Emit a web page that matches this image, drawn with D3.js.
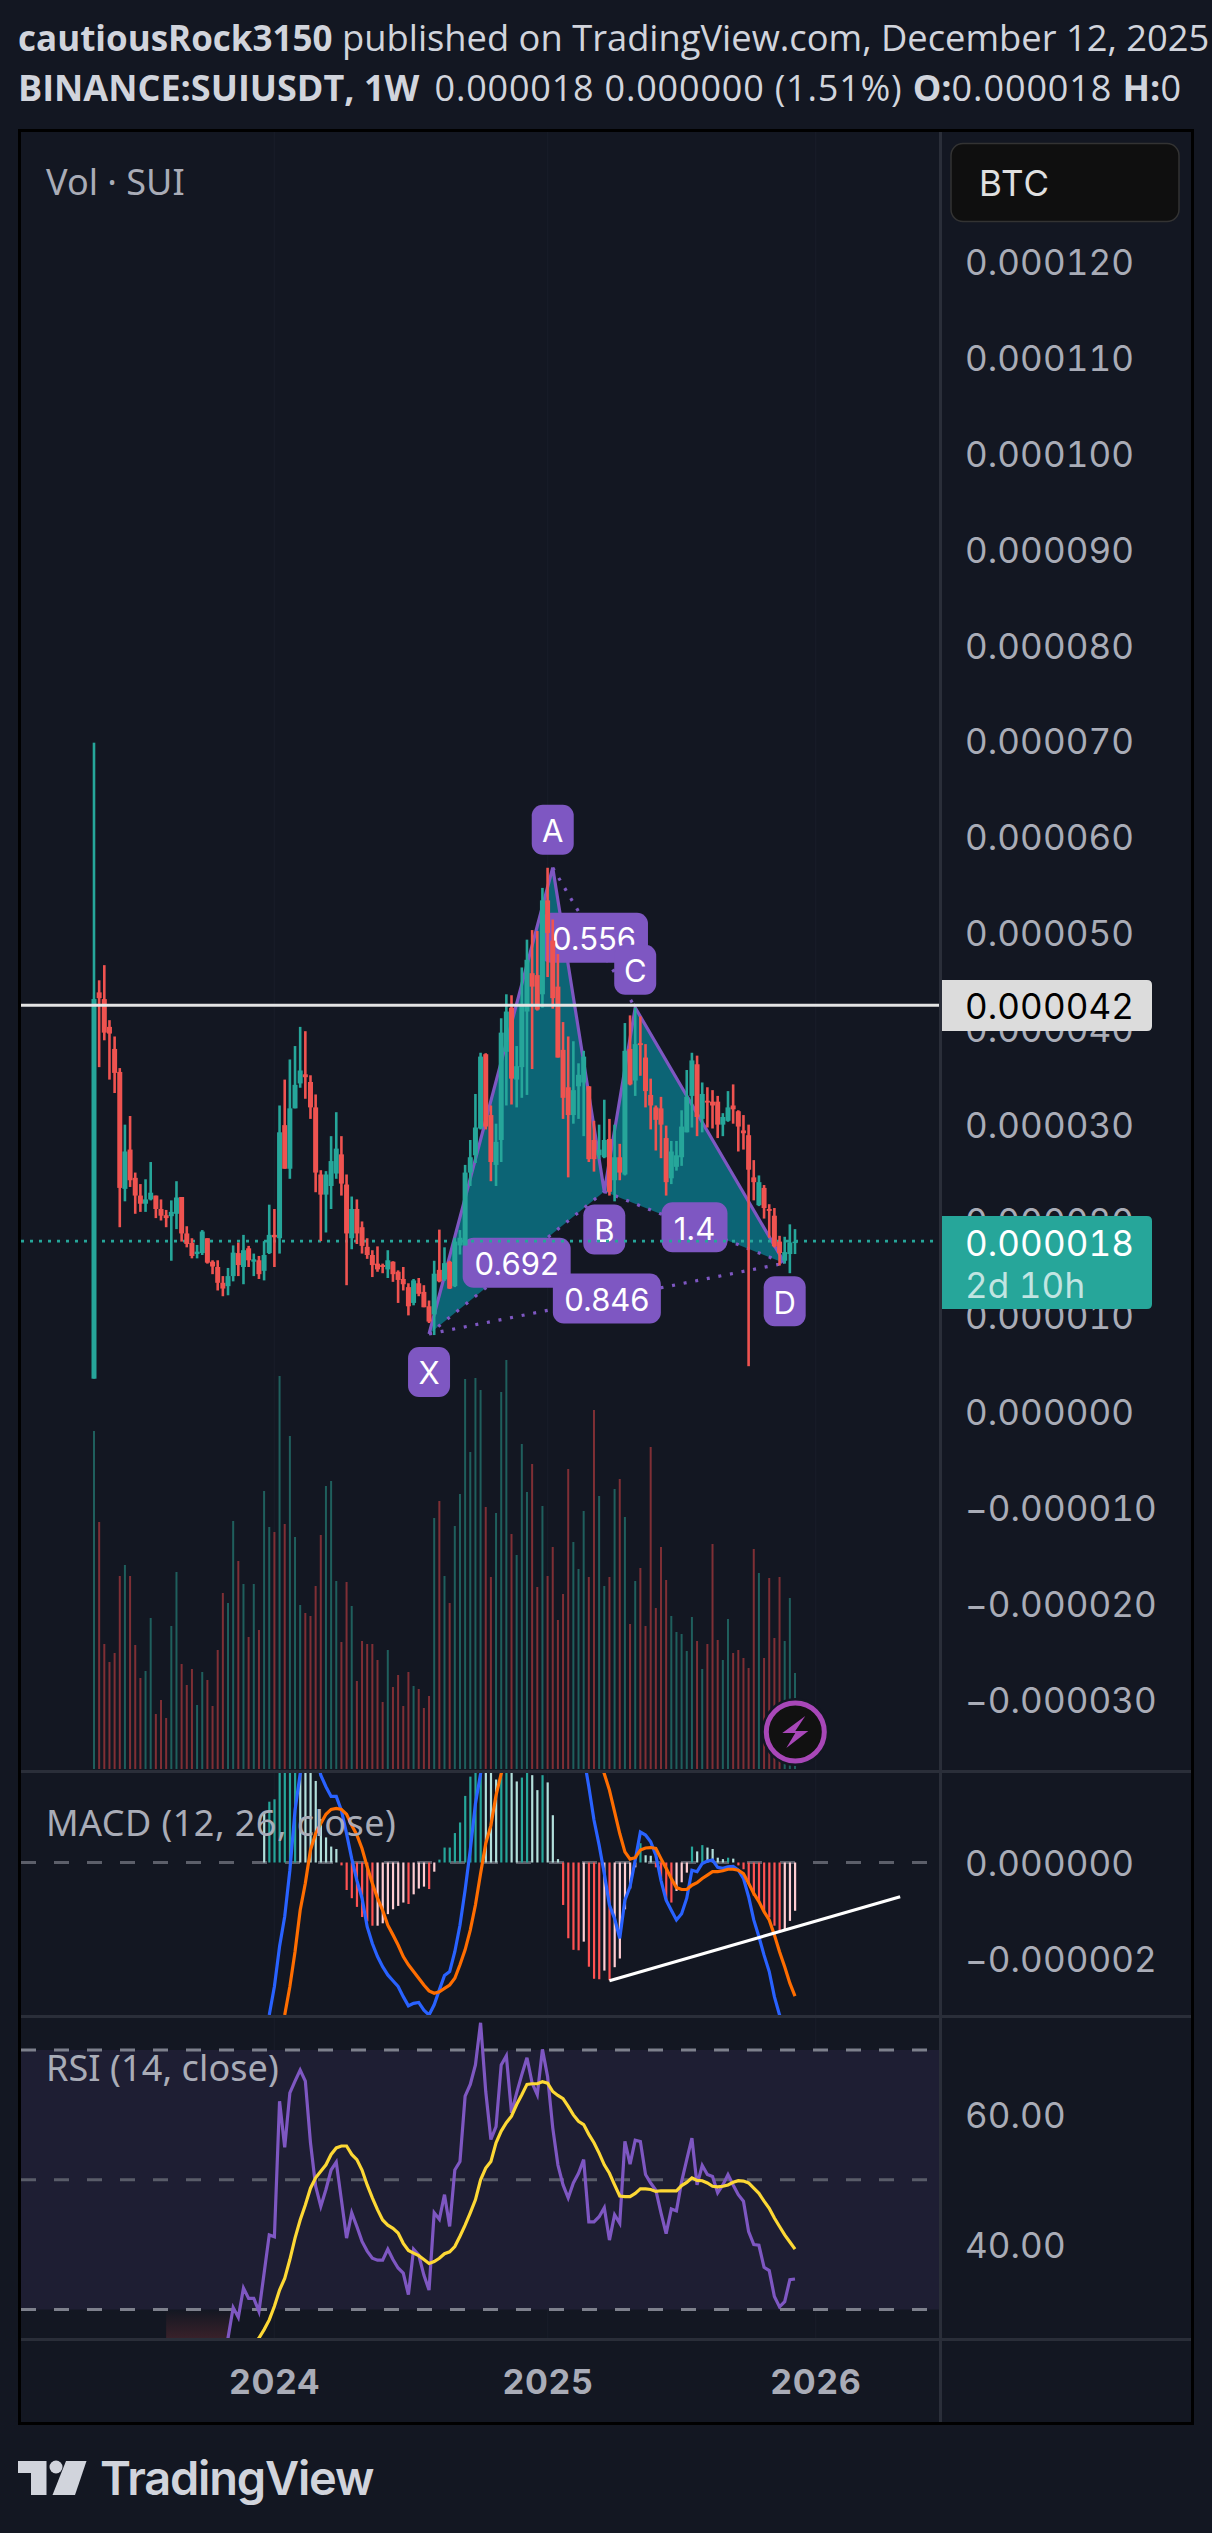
<!DOCTYPE html>
<html>
<head>
<meta charset="utf-8">
<script src="https://cdn.jsdelivr.net/npm/d3@7"></script>
<style>
  html, body { margin: 0; padding: 0; background: #131722; }
  svg { display: block; }
  .tnum { font-variant-numeric: tabular-nums; }
</style>
</head>
<body>
<script>
// weekly bars, prices in units of 0.000001
const firstWeek = new Date(Date.UTC(2023, 4, 1))
const opens = [3.5,43.8,43.1,40.2,37.9,35.5,23.3,27.4,24.45,22.6,21.75,22.2,22.6,21.2,20.55,20.45,20.7,22.45,18.65,17.65,16.5,16.6,18.15,15.7,15.15,13.5,13.15,14.2,16.6,15.15,17.1,15.7,15.85,14.75,16.6,18.5,18.15,29.95,25.4,31.7,34.3,35.25,34.45,31.8,24.8,22.7,23.6,24.9,26.9,23.75,18.15,21.2,19.3,17.25,16.4,15.5,15.35,14.9,15.7,14.65,13.9,13.05,11.4,13.45,12.55,11.05,10.2,14.85,13.85,15.7,13.15,17.4,17.4,25.0,26.8,29.6,37.35,31.0,25.8,28.4,37.6,42.2,34.7,36.0,41.8,45.8,45.6,43.6,53.4,49.2,44.4,37.8,33.9,31.0,34.0,34.4,34.0,28.4,26.8,26.6,28.5,24.2,26.6,24.8,37.9,34.6,38.5,37.0,33.1,31.8,31.7,28.6,24.4,25.6,26.6,29.2,33.0,36.3,30.6,32.5,32.4,32.4,30.0,30.4,32.0,31.4,29.4,28.9,24.5,21.6,23.4,21.2,20.5,17.8,15.8,16.5,17.7]
const highs = [69.85,45.06,46.64,40.9,39.2,35.9,30.0,30.9,25.0,23.8,24.3,26.1,22.6,22.2,21.1,22.1,24.1,22.45,19.4,18.15,17.45,19.0,18.15,15.85,15.85,14.2,15.05,17.4,17.7,18.5,17.35,16.55,16.3,17.85,21.65,21.2,32.0,34.7,36.8,38.2,40.2,39.75,35.15,33.15,25.25,25.15,28.8,31.3,28.8,24.8,22.5,22.2,19.9,18.15,16.9,17.3,15.5,16.9,15.75,14.8,15.15,13.45,13.9,14.0,13.25,11.65,15.8,19.05,17.2,15.8,18.2,19.0,25.8,28.4,33.2,37.5,37.45,32.0,30.1,41.1,43.6,43.5,38.2,46.4,49.3,50.3,50.2,54.7,56.8,51.4,47.8,40.7,39.2,38.7,36.4,37.7,34.0,30.4,30.0,32.6,30.6,30.0,28.0,40.6,41.4,42.2,41.3,38.4,34.8,32.0,32.9,29.9,28.3,28.3,31.5,35.7,37.5,37.2,34.4,33.9,33.6,33.0,31.2,33.5,34.2,31.5,31.0,30.0,26.3,24.7,23.7,21.7,21.3,18.4,18.3,19.6,19.1]
const lows = [3.5,36.0,38.8,34.7,33.3,19.3,22.0,23.5,20.7,20.9,20.9,22.1,20.25,20.0,19.3,15.8,19.1,17.8,17.2,16.05,16.05,16.4,15.5,14.4,12.7,12.1,12.2,13.65,14.2,13.35,15.15,14.2,13.9,13.75,16.5,15.15,16.55,25.4,24.35,31.7,33.85,32.7,30.6,22.95,17.85,18.75,21.2,24.35,22.6,13.25,17.0,17.55,16.55,16.0,14.1,14.65,14.5,14.0,13.6,11.4,12.7,10.1,11.15,12.1,10.95,9.3,8.05,13.55,13.7,12.85,13.05,16.45,17.4,23.6,26.0,29.5,29.5,24.1,23.6,26.1,32.0,32.1,31.8,32.8,33.1,35.8,41.9,42.2,45.4,42.1,37.0,30.6,24.5,30.1,30.6,28.8,26.1,25.1,26.4,26.5,22.6,22.0,24.2,24.7,34.1,33.0,35.1,31.8,29.5,27.3,26.5,22.6,23.8,25.2,25.7,29.2,29.7,28.8,29.2,29.7,29.6,28.6,28.8,30.3,30.1,27.2,27.4,4.8,22.1,21.5,20.2,18.2,17.2,15.3,15.5,14.5,16.5]
const closes = [43.1,43.2,39.6,39.5,35.4,23.4,27.2,24.2,22.6,21.75,22.2,22.9,21.2,20.5,20.25,20.9,22.4,18.65,17.55,16.3,16.75,18.85,15.6,15.2,13.5,12.9,14.2,16.65,15.35,16.9,15.85,15.95,14.4,16.4,18.5,18.25,29.2,25.4,31.7,34.15,35.65,34.95,31.8,25.0,22.7,24.8,26.2,27.5,23.85,18.65,21.2,18.65,17.35,16.4,15.35,14.9,15.15,15.85,14.4,13.8,13.35,11.05,13.75,12.35,10.95,9.45,14.45,13.65,15.55,12.9,17.8,18.2,25.0,26.6,29.7,37.1,29.8,26.1,28.2,39.6,41.8,34.8,36.1,42.4,47.2,44.4,42.0,53.4,50.0,43.2,37.0,32.8,31.0,33.6,35.2,37.1,26.4,26.4,27.4,28.4,23.0,26.6,25.0,37.7,34.2,38.4,38.3,33.5,32.0,30.5,30.0,24.0,27.2,26.8,29.8,32.9,36.7,30.8,33.2,32.3,32.0,30.0,30.8,31.8,31.6,29.8,29.1,25.3,24.0,24.0,21.3,21.0,17.3,16.6,16.7,17.7,17.8]
// volume in arbitrary units, no axis on the chart
const volumes = [338,247,125,107,116,193,204,193,124,91,98,151,55,69,51,143,197,105,84,100,64,97,89,63,119,176,166,248,208,185,132,185,139,278,242,237,393,245,333,232,164,156,153,183,234,283,288,188,127,187,163,88,128,125,125,109,67,119,82,94,63,97,83,80,61,73,251,268,193,166,243,275,390,317,391,379,262,192,256,377,409,235,214,325,277,305,182,263,193,222,149,175,300,227,200,258,192,359,273,183,192,280,290,252,145,188,201,143,322,161,222,189,153,137,135,118,152,128,100,125,225,129,109,150,116,119,111,101,220,196,111,191,131,192,128,171,96]
const macdLine = [null,null,null,null,null,null,null,null,null,null,null,null,null,null,null,null,null,null,null,null,null,null,null,null,null,null,null,null,null,null,null,null,null,null,-3.16,-2.57,-1.74,-1.12,-0.16,1.08,1.84,2.3,2.6,2.3,1.81,1.57,1.37,1.37,1.08,0.6,0.08,-0.37,-0.74,-1.33,-1.68,-1.95,-2.16,-2.33,-2.45,-2.57,-2.78,-2.97,-2.92,-2.9,-3.06,-3.16,-2.95,-2.64,-2.34,-2.26,-1.85,-1.3,-0.57,0.26,1.22,1.84,2.6,3.0,3.2,3.6,3.9,4.0,4.2,4.5,4.9,5.0,5.1,5.3,5.4,5.0,4.5,3.9,3.4,3.0,2.6,2.2,1.57,0.88,0.36,-0.23,-0.88,-1.16,-1.57,-0.78,-0.5,0.05,0.63,0.57,0.43,0.15,-0.37,-0.78,-0.99,-1.19,-1.06,-0.74,-0.16,-0.19,-0.02,0.03,0.05,-0.1,-0.12,-0.09,-0.08,-0.16,-0.33,-0.71,-1.19,-1.54,-1.92,-2.26,-2.78,-3.16,-3.4,-3.6,-3.7]
const signalLine = [null,null,null,null,null,null,null,null,null,null,null,null,null,null,null,null,null,null,null,null,null,null,null,null,null,null,null,null,null,null,null,null,null,null,null,null,null,-3.16,-2.57,-1.85,-0.99,-0.43,0.26,0.6,0.81,1.0,1.1,1.12,1.1,1.0,0.77,0.57,0.29,-0.09,-0.43,-0.74,-0.99,-1.3,-1.5,-1.71,-1.95,-2.12,-2.26,-2.4,-2.54,-2.66,-2.71,-2.68,-2.61,-2.54,-2.4,-2.12,-1.81,-1.4,-0.88,-0.23,0.39,0.77,1.39,1.84,2.3,2.7,3.0,3.3,3.6,3.9,4.1,4.3,4.5,4.6,4.6,4.5,4.3,4.0,3.7,3.3,2.9,2.5,2.15,1.84,1.5,1.05,0.6,0.22,0.07,0.1,0.26,0.3,0.31,0.29,0.08,-0.12,-0.33,-0.52,-0.56,-0.56,-0.47,-0.42,-0.33,-0.26,-0.19,-0.19,-0.17,-0.14,-0.14,-0.16,-0.23,-0.43,-0.64,-0.81,-1.02,-1.19,-1.5,-1.85,-2.16,-2.5,-2.77]
const macdHist = [null,null,null,null,null,null,null,null,null,null,null,null,null,null,null,null,null,null,null,null,null,null,null,null,null,null,null,null,null,null,null,null,null,1.03,1.26,1.31,2.0,2.3,2.5,2.6,2.4,2.2,2.0,1.69,0.9,0.52,0.33,0.28,-0.06,-0.57,-0.74,-0.92,-1.13,-1.22,-1.31,-1.31,-1.26,-1.07,-0.97,-0.9,-0.83,-0.86,-0.66,-0.54,-0.5,-0.55,-0.19,0.06,0.31,0.31,0.61,0.83,1.38,1.78,2.2,2.5,2.4,2.2,1.72,1.9,2.0,1.9,1.68,1.76,1.9,1.81,1.5,1.81,1.66,0.98,0.07,-0.88,-1.57,-1.81,-1.82,-1.64,-2.16,-2.41,-2.42,-2.24,-2.44,-2.17,-1.99,-0.97,-0.54,-0.1,0.4,0.15,0.14,-0.1,-0.34,-0.79,-0.83,-0.59,-0.41,-0.21,0.33,0.23,0.36,0.31,0.28,0.1,0.07,0.1,0.08,-0.06,-0.14,-0.45,-0.69,-0.83,-1.02,-1.14,-1.31,-1.45,-1.39,-1.21,-1.0]
const rsiLine = [null,null,null,null,null,null,null,null,null,null,null,null,null,null,null,null,null,null,null,null,null,null,null,null,null,24.0,25.6,30.3,28.8,33.3,31.7,31.7,29.7,35.6,41.5,41.2,62.1,55.0,63.4,65.2,66.9,65.2,55.7,49.0,45.9,48.5,51.5,52.7,46.9,41.0,44.9,42.8,40.5,39.0,37.9,37.6,37.6,39.3,37.7,36.4,35.6,32.3,39.3,38.4,35.3,33.0,44.9,43.9,47.7,42.8,51.5,52.8,62.9,64.7,67.7,74.2,63.6,56.2,58.2,67.7,69.1,60.3,63.4,66.2,68.8,64.9,63.1,70.1,65.9,58.0,52.3,49.2,47.2,49.5,51.0,53.1,43.5,43.5,44.3,45.7,40.7,44.6,43.3,55.9,52.4,56.1,55.9,50.8,49.5,48.4,44.9,41.7,45.5,45.2,49.7,53.1,56.4,49.2,52.2,50.8,50.5,48.0,49.2,50.8,49.2,47.7,46.7,42.0,40.0,39.9,36.5,36.0,32.0,30.4,31.2,34.6,34.7]
const rsiMa = [null,null,null,null,null,null,null,null,null,null,null,null,null,null,null,null,null,null,null,null,null,null,null,null,null,null,null,null,null,null,null,24.5,25.6,26.9,28.4,30.5,33.0,34.8,37.7,41.0,43.8,46.1,48.7,50.3,51.3,52.3,53.9,54.9,55.2,55.2,53.9,53.1,51.5,49.2,47.2,45.4,43.8,43.0,42.5,41.8,40.2,39.1,38.7,38.3,37.7,37.1,37.4,37.9,38.6,38.9,39.7,41.3,43.0,44.9,46.9,50.0,51.8,52.8,55.7,57.5,58.8,59.8,61.6,63.1,64.7,64.8,64.8,65.1,64.9,63.6,63.0,62.5,61.3,60.0,59.0,58.5,57.0,55.7,54.1,52.3,51.0,49.2,47.5,47.4,47.4,47.9,48.6,48.6,48.5,48.2,48.3,48.3,48.3,48.3,49.1,49.6,50.3,49.9,49.85,49.5,49.0,48.9,49.0,49.2,49.6,49.85,49.8,49.5,48.7,47.9,46.7,45.6,44.1,42.8,41.5,40.4,39.3]

// harmonic pattern
const patternNames = ['X', 'A', 'B', 'C', 'D']
const patternBars = [65, 89, 99, 105, 134]
const patternPrices = [8.16, 56.8, 23.03, 42.2, 15.55]
const ratioLegs = [[0, 2, '0.692'], [1, 3, '0.556'], [0, 4, '0.846'], [2, 4, '1.4']]
const hLinePrice = 42.45
const lastPrice = 17.85
const trendBars = [100, 156.4]
const trendValues = [-2.45, -0.71]

const priceTicks = [120,110,100,90,80,70,60,50,40,30,20,10,0,-10,-20,-30]
const macdTicks = [0, -2]
const rsiTicks = [60, 40]
const rsiBands = [70, 50, 30]
const yearTicks = [new Date(Date.UTC(2024,0,1)), new Date(Date.UTC(2025,0,6)), new Date(Date.UTC(2026,0,5))]

const week = 7*24*3600*1000
const barDate = i => new Date(firstWeek.getTime() + i*week)

const width = 1212, height = 2533
const plotL = 21, plotR = 939, frameR = 1191
const mainTop = 132, mainBot = 1770, macdTop = 1773, macdBot = 2015, rsiTop = 2018, rsiBot = 2338

const xScale = d3.scaleUtc().domain([firstWeek, barDate(136)]).range([94, 795])
const x = i => xScale(barDate(i))
const yPrice = d3.scaleLinear().domain([0, 120]).range([1412.2, 262])
const yVol = d3.scaleLinear().domain([0, 409]).range([1769, 1360])
const yMacd = d3.scaleLinear().domain([0, -2]).range([1862.5, 1959])
const yRsi = d3.scaleLinear().domain([70, 30]).range([2050, 2309.5])

const up = '#26a69a', down = '#ef5350', purple = '#7e57c2'
const axisText = '#a9acb7'
const uiFont = 'Inter, Roboto, sans-serif'
const axisSize = 35, axisSpacing = 0.1

const svg = d3.select('body').append('svg').attr('width', width).attr('height', height)
svg.append('rect').attr('width', width).attr('height', height).attr('fill', '#131722')

const defs = svg.append('defs')
defs.append('clipPath').attr('id', 'clipMacd').append('rect').attr('x', plotL).attr('y', macdTop).attr('width', plotR-plotL).attr('height', macdBot-macdTop)
defs.append('clipPath').attr('id', 'clipRsi').append('rect').attr('x', plotL).attr('y', rsiTop).attr('width', plotR-plotL).attr('height', rsiBot-rsiTop)
const grad = defs.append('linearGradient').attr('id', 'oversold').attr('x1', 0).attr('x2', 0).attr('y1', 0).attr('y2', 1)
grad.append('stop').attr('offset', 0).attr('stop-color', '#ef5350').attr('stop-opacity', 0)
grad.append('stop').attr('offset', 1).attr('stop-color', '#ef5350').attr('stop-opacity', 0.17)

// faint year grid
svg.append('g').selectAll('line').data(yearTicks).enter().append('line')
  .attr('x1', d => xScale(d)).attr('x2', d => xScale(d)).attr('y1', mainTop).attr('y2', rsiBot)
  .attr('stroke', '#171b27').attr('stroke-width', 1.5)

// volume
svg.append('g').selectAll('rect').data(volumes).enter().append('rect')
  .attr('x', (d, i) => x(i)-1).attr('width', 2)
  .attr('y', d => yVol(d)).attr('height', d => yVol(0)-yVol(d))
  .attr('fill', (d, i) => closes[i] >= opens[i] ? '#1f5f5d' : '#7f2f35')

// pattern fill and legs
const pts = patternNames.map((n, i) => ({name: n, x: x(patternBars[i]), y: yPrice(patternPrices[i])}))
const polyLine = d3.line().x(d => d.x).y(d => d.y)
const pat = svg.append('g')
pat.append('path').attr('d', polyLine([pts[0], pts[1], pts[2]])+'Z').attr('fill', '#0c6475')
pat.append('path').attr('d', polyLine([pts[2], pts[3], pts[4]])+'Z').attr('fill', '#0c6475')
pat.append('path').attr('d', polyLine(pts)).attr('fill', 'none').attr('stroke', purple).attr('stroke-width', 3.2)
pat.selectAll('.dotleg').data(ratioLegs).enter().append('line').attr('class', 'dotleg')
  .attr('x1', d => pts[d[0]].x).attr('y1', d => pts[d[0]].y)
  .attr('x2', d => pts[d[1]].x).attr('y2', d => pts[d[1]].y)
  .attr('stroke', purple).attr('stroke-width', 3.2).attr('stroke-dasharray', '3 8.8')

// ratio and point labels
function tag(g, cx, cy, w, txt) {
  g.append('rect').attr('x', cx-w/2).attr('y', cy-25).attr('width', w).attr('height', 50).attr('rx', 11).attr('fill', purple)
  g.append('text').attr('x', cx).attr('y', cy+1).attr('text-anchor', 'middle').attr('dominant-baseline', 'central')
    .attr('font-family', uiFont).attr('font-size', 31).attr('fill', '#fff').text(txt)
}
const labels = svg.append('g')
ratioLegs.forEach(d => {
  const p = pts[d[0]], q = pts[d[1]]
  tag(labels, (p.x+q.x)/2, (p.y+q.y)/2, d[2].length > 3 ? 108 : 66, d[2])
})
pts.forEach(p => {
  const above = p.name == 'A' || p.name == 'C'
  tag(labels, p.x, p.y + (above ? -38 : 38), 42, p.name)
})

// last price line
svg.append('line').attr('x1', plotL).attr('x2', 934).attr('y1', yPrice(lastPrice)).attr('y2', yPrice(lastPrice))
  .attr('stroke', up).attr('stroke-width', 2.6).attr('stroke-dasharray', '3 6')

// candles
const candles = svg.append('g')
opens.forEach((o, i) => {
  const c = closes[i]
  const col = c >= o ? up : down
  candles.append('rect').attr('x', x(i)-1.3).attr('width', 2.6)
    .attr('y', yPrice(highs[i])).attr('height', yPrice(lows[i])-yPrice(highs[i])).attr('fill', col)
  candles.append('rect').attr('x', x(i)-2.5).attr('width', 5)
    .attr('y', yPrice(Math.max(o, c))).attr('height', Math.max(1.5, Math.abs(yPrice(o)-yPrice(c)))).attr('fill', col)
})

// horizontal level
svg.append('line').attr('x1', plotL).attr('x2', plotR).attr('y1', yPrice(hLinePrice)).attr('y2', yPrice(hLinePrice))
  .attr('stroke', '#e4e4e4').attr('stroke-width', 3)

// MACD pane
const dash = '15 18'
svg.append('line').attr('x1', plotL).attr('x2', 928).attr('y1', yMacd(0)).attr('y2', yMacd(0))
  .attr('stroke', '#5c5f6a').attr('stroke-width', 3).attr('stroke-dasharray', dash)
const macdG = svg.append('g').attr('clip-path', 'url(#clipMacd)')
function histColor(i) {
  const v = macdHist[i], prev = macdHist[i-1]
  if (v >= 0) return prev != null && v >= prev ? up : '#b2dfdb'
  return v < prev ? '#ff5252' : '#ffcdd2'
}
const histBars = macdHist.map((v, i) => ({v: v, i: i})).filter(d => d.v != null)
macdG.selectAll('rect').data(histBars).enter().append('rect')
  .attr('x', d => x(d.i)-1).attr('width', 2.2)
  .attr('y', d => d.v >= 0 ? yMacd(d.v) : yMacd(0))
  .attr('height', d => Math.abs(yMacd(d.v)-yMacd(0)))
  .attr('fill', d => histColor(d.i))
const seriesLine = (y) => d3.line().defined(d => d != null).x((d, i) => x(i)).y(d => y(d))
macdG.append('path').attr('d', seriesLine(yMacd)(macdLine)).attr('fill', 'none').attr('stroke', '#2962ff').attr('stroke-width', 3.2)
macdG.append('path').attr('d', seriesLine(yMacd)(signalLine)).attr('fill', 'none').attr('stroke', '#ff6d00').attr('stroke-width', 3.2)
svg.append('line').attr('x1', x(trendBars[0])).attr('x2', x(trendBars[1]))
  .attr('y1', yMacd(trendValues[0])).attr('y2', yMacd(trendValues[1]))
  .attr('stroke', '#fff').attr('stroke-width', 3.2)

// RSI pane
svg.append('rect').attr('x', plotL).attr('width', plotR-plotL).attr('y', yRsi(70)).attr('height', yRsi(30)-yRsi(70)).attr('fill', '#1e1e33')
svg.append('rect').attr('x', x(14)).attr('width', x(26.4)-x(14)).attr('y', yRsi(30)).attr('height', rsiBot-yRsi(30)).attr('fill', 'url(#oversold)')
svg.append('g').selectAll('line').data(rsiBands).enter().append('line')
  .attr('x1', plotL).attr('x2', 928).attr('y1', d => yRsi(d)).attr('y2', d => yRsi(d))
  .attr('stroke', d => d == 50 ? '#595c69' : '#7d808c').attr('stroke-width', 3).attr('stroke-dasharray', dash)
const rsiG = svg.append('g').attr('clip-path', 'url(#clipRsi)')
rsiG.append('path').attr('d', seriesLine(yRsi)(rsiLine)).attr('fill', 'none').attr('stroke', purple).attr('stroke-width', 3.2)
rsiG.append('path').attr('d', seriesLine(yRsi)(rsiMa)).attr('fill', 'none').attr('stroke', '#fdd835').attr('stroke-width', 3.2)

// separators
const sep = svg.append('g').attr('stroke', '#2a2e39').attr('stroke-width', 3)
sep.append('line').attr('x1', plotL).attr('x2', frameR).attr('y1', 1771.5).attr('y2', 1771.5)
sep.append('line').attr('x1', plotL).attr('x2', frameR).attr('y1', 2016.5).attr('y2', 2016.5)
sep.append('line').attr('x1', plotL).attr('x2', frameR).attr('y1', 2339.5).attr('y2', 2339.5)
sep.append('line').attr('x1', 940.5).attr('x2', 940.5).attr('y1', mainTop).attr('y2', 2422)

// frame
svg.append('rect').attr('x', 19.5).attr('y', 130.5).attr('width', 1173).attr('height', 2293)
  .attr('fill', 'none').attr('stroke', '#000').attr('stroke-width', 3)

// axes
function styleAxis(g) {
  g.select('.domain').remove()
  g.selectAll('.tick line').remove()
  g.selectAll('text').attr('x', 0).attr('dy', '0.36em').attr('class', 'tnum')
    .attr('font-family', uiFont).attr('font-size', axisSize).attr('letter-spacing', axisSpacing)
    .attr('fill', axisText).attr('text-anchor', 'start')
}
const fmt = u => (u < 0 ? '\u2212' : '') + Math.abs(u*1e-6).toFixed(6)
svg.append('g').attr('transform', 'translate(965,0)')
  .call(d3.axisRight(yPrice).tickValues(priceTicks).tickFormat(fmt)).call(styleAxis)
svg.append('g').attr('transform', 'translate(965,0)')
  .call(d3.axisRight(yMacd).tickValues(macdTicks).tickFormat(fmt)).call(styleAxis)
svg.append('g').attr('transform', 'translate(965,0)')
  .call(d3.axisRight(yRsi).tickValues(rsiTicks).tickFormat(d => d.toFixed(2))).call(styleAxis)
const xAxis = svg.append('g').attr('transform', 'translate(0,2382)')
  .call(d3.axisBottom(xScale).tickValues(yearTicks).tickFormat(d3.utcFormat('%Y')))
xAxis.select('.domain').remove()
xAxis.selectAll('.tick line').remove()
xAxis.selectAll('text').attr('y', 0).attr('dy', '0.36em').attr('font-family', uiFont).attr('font-weight', 700)
  .attr('font-size', 34).attr('letter-spacing', 0.8).attr('fill', axisText)

// price tags on the axis
function axisTag(y, h, fill) {
  const w = 210, r = 5
  svg.append('path').attr('fill', fill)
    .attr('d', `M942,${y}H${942+w-r}Q${942+w},${y} ${942+w},${y+r}V${y+h-r}Q${942+w},${y+h} ${942+w-r},${y+h}H942Z`)
}
axisTag(980, 51, '#dcdcdc')
axisTag(1216, 93, up)
const axisLabel = (y, t, fill) => svg.append('text').attr('class', 'tnum').attr('x', 965).attr('y', y).attr('dominant-baseline', 'central')
  .attr('font-family', uiFont).attr('font-size', axisSize).attr('letter-spacing', axisSpacing).attr('fill', fill).text(t)
axisLabel(1005.5, fmt(42), '#000')
axisLabel(1243, fmt(18), '#fff')
axisLabel(1285, '2d 10h', 'rgba(255,255,255,0.72)')

// currency box
svg.append('rect').attr('x', 951).attr('y', 143.5).attr('width', 228).attr('height', 78).attr('rx', 12)
  .attr('fill', '#0f0f0f').attr('stroke', '#333').attr('stroke-width', 1.5)
svg.append('text').attr('x', 979).attr('y', 183).attr('dominant-baseline', 'central')
  .attr('font-family', uiFont).attr('font-size', 35).attr('letter-spacing', 1).attr('fill', '#e0e0e0').text('BTC')

// pane titles
const paneTitle = (y, t, ls) => svg.append('text').attr('x', 46).attr('y', y).attr('dominant-baseline', 'central')
  .attr('font-family', "'Noto Sans', sans-serif").attr('font-size', 36).attr('letter-spacing', ls).attr('fill', axisText).text(t)
paneTitle(181, 'Vol \u00b7 SUI', 0)
paneTitle(1822, 'MACD (12, 26, close)', 0.45)
paneTitle(2067, 'RSI (14, close)', 0.1)

// header
const headFont = "'Open Sans', sans-serif"
const line1 = svg.append('text').attr('x', 18).attr('y', 37).attr('dominant-baseline', 'central')
  .attr('font-family', headFont).attr('font-size', 35).attr('fill', '#d1d4dc')
line1.append('tspan').attr('font-weight', 700).text('cautiousRock3150')
line1.append('tspan').attr('font-size', 36.3).text(' published on TradingView.com, December 12, 2025')
const line2 = svg.append('text').attr('x', 18).attr('y', 87).attr('dominant-baseline', 'central')
  .attr('font-family', headFont).attr('font-size', 36).attr('fill', '#d1d4dc')
line2.append('tspan').attr('font-weight', 700).text('BINANCE:SUIUSDT, 1W')
line2.append('tspan').attr('letter-spacing', 0.8).attr('dx', 5).text(' 0.000018 0.000000 (1.51%) ')
line2.append('tspan').attr('font-weight', 700).text('O:')
line2.append('tspan').attr('letter-spacing', 0.9).text('0.000018 ')
line2.append('tspan').attr('font-weight', 700).text('H:')
line2.append('tspan').attr('letter-spacing', 0.9).text('0')

// lightning badge
const badge = svg.append('g').attr('transform', 'translate(795.3,1732)')
badge.append('circle').attr('r', 34).attr('fill', '#131722')
badge.append('circle').attr('r', 29).attr('fill', '#111').attr('stroke', '#a847b8').attr('stroke-width', 5)
badge.append('path').attr('fill', '#a847b8').attr('d', 'M10,-16L-13,1L0,1L-9,16L13,-1L0,-1Z')

// logo
const logo = svg.append('g').attr('fill', '#d1d4dc')
logo.append('path').attr('d', 'M18,2461H46.5V2495H31V2473H18Z')
logo.append('circle').attr('cx', 56).attr('cy', 2467).attr('r', 6.5)
logo.append('path').attr('d', 'M66,2461H86.5L75,2495H52.5Z')
logo.append('text').attr('x', 100).attr('y', 2495).attr('font-family', uiFont).attr('font-size', 47)
  .attr('font-weight', 600).attr('letter-spacing', -1.2).text('TradingView')
</script>
</body>
</html>
